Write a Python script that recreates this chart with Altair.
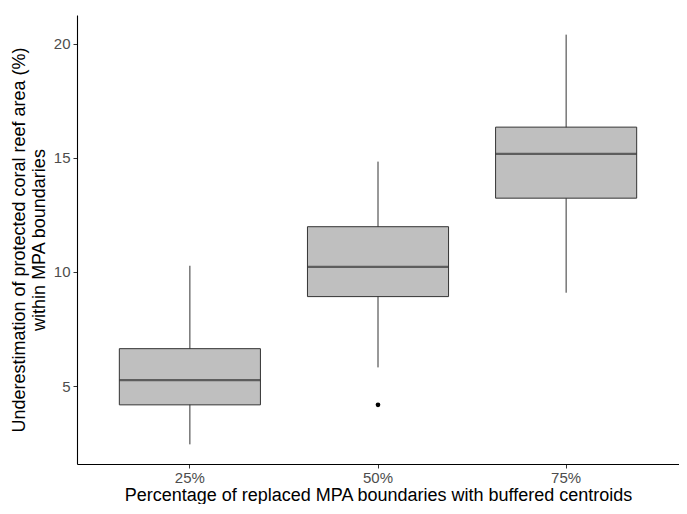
import altair as alt
import pandas as pd

categories = ["25%", "50%", "75%"]
lower_whisker = [2.45, 5.82, 9.09]
q1 = [4.18, 8.92, 13.23]
median = [5.26, 10.22, 15.17]
q3 = [6.64, 11.98, 16.34]
upper_whisker = [10.27, 14.83, 20.39]
outlier_cat = ["50%"]
outlier_val = [4.18]

y_ticks = [5, 10, 15, 20]
y_domain = [1.59, 21.25]

stats = pd.DataFrame({
    "cat": categories, "lo": lower_whisker, "q1": q1, "med": median,
    "q3": q3, "hi": upper_whisker,
})
outs = pd.DataFrame({"cat": outlier_cat, "val": outlier_val})

FONT = "Liberation Sans"
W, H = 602, 449
x_scale = alt.Scale(domain=categories, paddingInner=0.25, paddingOuter=0.225)
y_scale = alt.Scale(domain=y_domain, nice=False, zero=False)

x_enc = alt.X("cat:N", scale=x_scale, sort=categories,
              axis=alt.Axis(title="Percentage of replaced MPA boundaries with buffered centroids",
                            labelAngle=0, titleY=36, titleBaseline="alphabetic"))
y_axis = alt.Axis(values=y_ticks,
                  title=["Underestimation of protected coral reef area (%)", "within MPA boundaries"])

base = alt.Chart(stats)
whisk = base.mark_rule(color="#333333", strokeWidth=1).encode(
    x=x_enc, y=alt.Y("lo:Q", scale=y_scale, axis=y_axis), y2="hi:Q")
box = base.mark_bar(fill="#bfbfbf", stroke="#333333", strokeWidth=1).encode(
    x=x_enc, y=alt.Y("q1:Q", scale=y_scale), y2="q3:Q")
med = base.mark_tick(color="#333333", thickness=2.2, size=W / 3.2 * 0.75).encode(
    x=x_enc, y=alt.Y("med:Q", scale=y_scale))
pts = alt.Chart(outs).mark_circle(color="black", size=22, opacity=1).encode(
    x=alt.X("cat:N", scale=x_scale, sort=categories), y=alt.Y("val:Q", scale=y_scale))

chart = alt.layer(whisk, box, med, pts).properties(
    width=W, height=H,
    autosize=alt.AutoSizeParams(type="none"),
    padding={"left": 69, "top": 7, "right": 0, "bottom": 40},
).configure_view(stroke=None).configure_axis(
    grid=False, domainColor="black", domainWidth=1.1,
    tickColor="#333333", tickSize=4, tickWidth=1,
    labelColor="#4d4d4d", labelFont=FONT, labelFontSize=15, labelPadding=2,
    titleFont=FONT, titleFontSize=18, titleFontWeight="normal", titleColor="black",
).configure_axisY(titlePadding=5, labelPadding=3)

chart.save("out.html", embed_options={"renderer": "svg", "actions": False})
